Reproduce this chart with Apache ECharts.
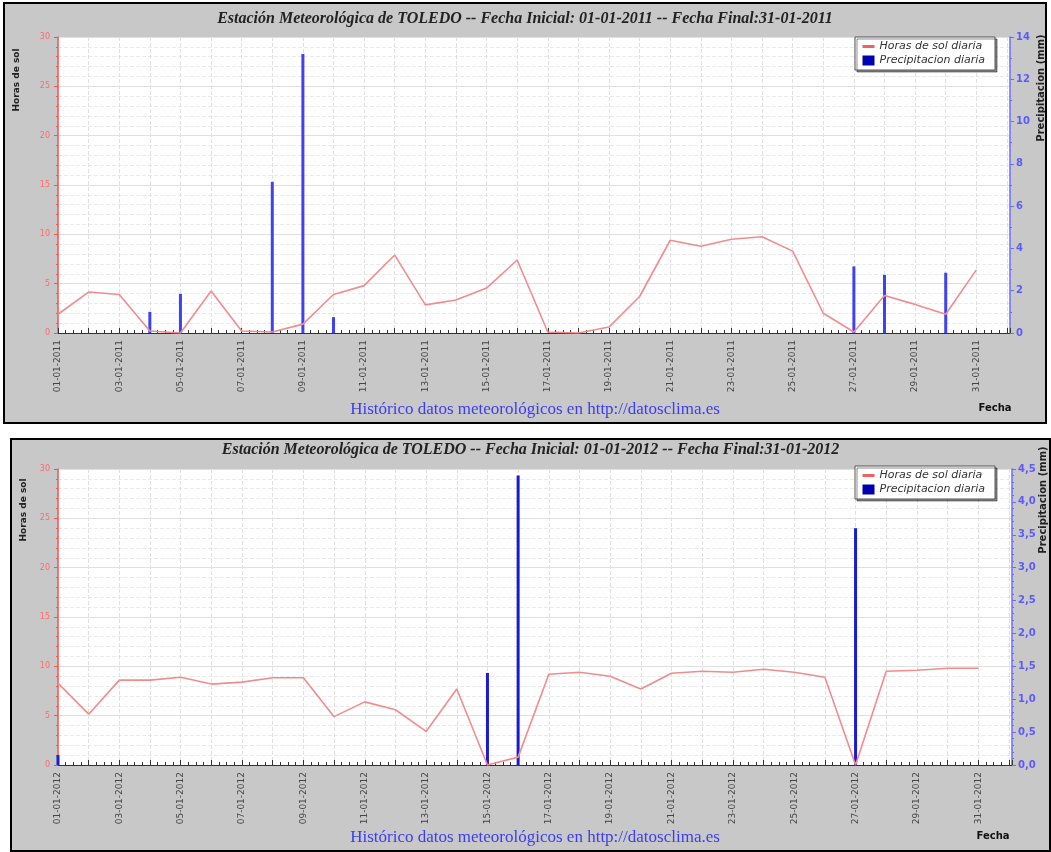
<!DOCTYPE html>
<html>
<head>
<meta charset="utf-8">
<script src="https://cdn.jsdelivr.net/npm/echarts@6/dist/echarts.min.js"></script>
<style>
  body { margin: 0; background: #fff; width: 1051px; height: 852px; overflow: hidden; position: relative; }
  .panel { position: absolute; border: 2px solid #000; background: #c8c8c8; }
  #top { left: 3px; top: 2px; width: 1040px; height: 418px; }
  #bottom { left: 10px; top: 438px; width: 1037px; height: 410px; }
</style>
</head>
<body>
<div id="top" class="panel"></div>
<div id="bottom" class="panel"></div>
<script>
// horas de sol y precipitacion diaria, enero 2011 y enero 2012 (dia 1..31)
var horasSol2011 = [1.9, 4.15, 3.9, 0.2, 0.0, 4.25, 0.2, 0.1, 0.9, 3.9, 4.8, 7.9, 2.85, 3.35, 4.55, 7.4,
  0.1, 0.0, 0.6, 3.7, 9.4, 8.8, 9.5, 9.75, 8.3, 2.0, 0.1, 3.8, 2.9, 1.9, 6.4]
var precip2011 = [0, 0, 0, 1.0, 1.85, 0, 0, 7.15, 13.2, 0.75, 0, 0, 0, 0, 0, 0,
  0, 0, 0, 0, 0, 0, 0, 0, 0, 0, 3.15, 2.75, 0, 2.85, 0]
var horasSol2012 = [8.3, 5.15, 8.6, 8.6, 8.9, 8.2, 8.4, 8.85, 8.85, 4.9, 6.4, 5.6, 3.4, 7.7, 0.0, 0.8,
  9.2, 9.4, 9.0, 7.7, 9.3, 9.5, 9.4, 9.7, 9.4, 8.9, 0.0, 9.5, 9.6, 9.8, 9.8]
var precip2012 = [0.15, 0, 0, 0, 0, 0, 0, 0, 0, 0, 0, 0, 0, 0, 1.4, 4.4,
  0, 0, 0, 0, 0, 0, 0, 0, 0, 0, 3.6, 0, 0, 0, 0]

var nombreSol = 'Horas de sol diaria'
var nombrePrecip = 'Precipitacion diaria'

function pad (n) { return n < 10 ? '0' + n : '' + n }

function buildOption (cfg) {
  var sol = cfg.sol.map(function (v, i) { return [i, v] })
  var lluvia = []
  cfg.precip.forEach(function (v, i) { if (v > 0) lluvia.push([i, v]) })
  return {
    animation: false,
    backgroundColor: 'transparent',
    title: {
      text: 'Estación Meteorológica de TOLEDO -- Fecha Inicial: 01-01-' + cfg.year + ' -- Fecha Final:31-01-' + cfg.year,
      left: 'center',
      top: cfg.titleTop,
      textStyle: { fontFamily: 'Liberation Serif', fontStyle: 'italic', fontWeight: 'bold', fontSize: 16, color: '#222' }
    },
    legend: {
      orient: 'vertical',
      left: cfg.legendLeft,
      top: cfg.legendTop,
      padding: [4, 10, 4, 6],
      itemGap: 3,
      itemWidth: 12,
      itemHeight: 10,
      backgroundColor: '#fff',
      borderColor: '#555',
      borderWidth: 1,
      shadowColor: 'rgba(0,0,0,0.45)',
      shadowOffsetX: 2,
      shadowOffsetY: 2,
      shadowBlur: 0,
      textStyle: { fontFamily: 'DejaVu Sans', fontStyle: 'italic', fontSize: 11, color: '#333' },
      data: [
        { name: nombreSol, itemStyle: { opacity: 0 }, lineStyle: { color: '#f06060', width: 3 } },
        { name: nombrePrecip, icon: 'rect', itemStyle: { color: '#0000b0' } }
      ]
    },
    grid: { left: cfg.grid[0], top: cfg.grid[1], right: cfg.grid[2], bottom: cfg.grid[3], show: true, backgroundColor: '#fff', borderWidth: 0 },
    xAxis: {
      type: 'value',
      min: 0,
      max: 31.1,
      interval: 1,
      axisLine: { lineStyle: { color: '#333', width: 1 } },
      axisTick: { inside: true, length: 5, lineStyle: { color: '#333' } },
      minorTick: { show: true, splitNumber: 4, length: 3, lineStyle: { color: '#333' } },
      splitLine: { show: true, lineStyle: { color: '#e0e0e0', type: 'dashed' } },
      axisLabel: {
        rotate: 90,
        fontSize: 9,
        fontFamily: 'DejaVu Sans',
        color: '#444',
        margin: 7,
        showMaxLabel: false,
        formatter: function (v) {
          if (Math.round(v) !== v || v % 2 !== 0) return ''
          return pad(v + 1) + '-01-' + cfg.year
        }
      }
    },
    yAxis: [
      {
        type: 'value',
        position: 'left',
        min: 0,
        max: 30,
        interval: 5,
        axisLine: { show: true, lineStyle: { color: '#ff5050', width: 1.5 } },
        axisTick: { show: true, length: 4, lineStyle: { color: '#ff5050' } },
        minorTick: { show: true, splitNumber: 5, length: 2, lineStyle: { color: '#ff5050' } },
        axisLabel: { fontSize: 8, color: '#ff6a6a', fontFamily: 'DejaVu Sans', margin: 8 },
        splitLine: { show: true, lineStyle: { color: '#e0e0e0' } },
        minorSplitLine: { show: true, lineStyle: { color: '#eaeaea', type: 'dashed' } }
      },
      {
        type: 'value',
        position: 'right',
        min: 0,
        max: cfg.precipMax,
        interval: cfg.precipStep,
        axisLine: { show: true, lineStyle: { color: '#6a6aff', width: 1.5 } },
        axisTick: { show: true, length: 4, lineStyle: { color: '#6a6aff' } },
        minorTick: { show: true, splitNumber: cfg.precipMinor, length: 2, lineStyle: { color: '#6a6aff' } },
        axisLabel: {
          fontSize: 10,
          fontWeight: 'bold',
          color: '#5a5aff',
          fontFamily: 'DejaVu Sans',
          margin: 6,
          formatter: cfg.precipFmt
        },
        splitLine: { show: false }
      }
    ],
    series: [
      {
        name: nombreSol,
        type: 'line',
        yAxisIndex: 0,
        symbol: 'none',
        lineStyle: { color: '#f28c8c', width: 1.6 },
        itemStyle: { color: '#f28c8c' },
        data: sol,
        z: 3
      },
      {
        name: nombrePrecip,
        type: 'bar',
        yAxisIndex: 1,
        barWidth: 3,
        itemStyle: { color: cfg.barColor },
        data: lluvia,
        z: 2
      }
    ],
    graphic: [
      {
        type: 'text', x: 12, y: cfg.solNameY, rotation: Math.PI / 2,
        style: { text: 'Horas de sol', font: 'bold 9px "DejaVu Sans"', fill: '#222', align: 'center', verticalAlign: 'middle' }
      },
      {
        type: 'text', x: cfg.precipNameX, y: cfg.precipNameY, rotation: Math.PI / 2,
        style: { text: 'Precipitacion (mm)', font: 'bold 10px "DejaVu Sans"', fill: '#222', align: 'center', verticalAlign: 'middle' }
      },
      {
        type: 'text', x: cfg.footX, y: cfg.footY,
        style: { text: 'Histórico datos meteorológicos en http://datosclima.es', font: '17px "Liberation Serif"', fill: '#3c3cf2', align: 'center', verticalAlign: 'middle' }
      },
      {
        type: 'text', x: cfg.fechaX, y: cfg.fechaY,
        style: { text: 'Fecha', font: 'bold 10px "DejaVu Sans"', fill: '#111', align: 'center', verticalAlign: 'middle' }
      }
    ]
  }
}

var chartTop = echarts.init(document.getElementById('top'))
chartTop.setOption(buildOption({
  year: 2011,
  sol: horasSol2011,
  precip: precip2011,
  precipMax: 14,
  precipStep: 2,
  precipMinor: 2,
  precipFmt: function (v) { return '' + v },
  barColor: '#4040f5',
  titleTop: 2,
  legendLeft: 850,
  legendTop: 33,
  grid: [53, 33, 35, 89],
  solNameY: 76,
  precipNameX: 1036,
  precipNameY: 84,
  footX: 530,
  footY: 406,
  fechaX: 990,
  fechaY: 404
}))

var chartBottom = echarts.init(document.getElementById('bottom'))
chartBottom.setOption(buildOption({
  year: 2012,
  sol: horasSol2012,
  precip: precip2012,
  precipMax: 4.5,
  precipStep: 0.5,
  precipMinor: 5,
  precipFmt: function (v) { return v.toFixed(1).replace('.', ',') },
  barColor: '#1a1ad2',
  titleTop: -3,
  legendLeft: 843,
  legendTop: 26,
  grid: [46, 29, 37, 85],
  solNameY: 70,
  precipNameX: 1031,
  precipNameY: 60,
  footX: 523,
  footY: 398,
  fechaX: 981,
  fechaY: 396
}))
</script>
</body>
</html>
